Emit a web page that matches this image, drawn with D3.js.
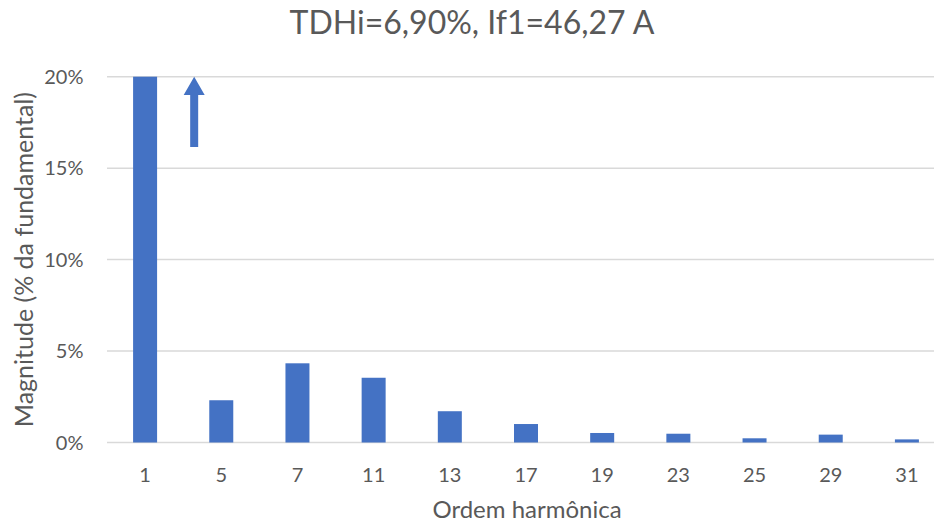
<!DOCTYPE html>
<html>
<head>
<meta charset="utf-8">
<script src="https://cdn.jsdelivr.net/npm/d3@7"></script>
<style>
  html, body { margin: 0; padding: 0; background: #fff; }
  svg { display: block; }
  text { font-family: Lato, "Open Sans", sans-serif; }
</style>
</head>
<body>
<svg id="chart" width="934" height="526"></svg>
<script>
// Harmonic spectrum of the current (magnitude as % of fundamental)
const harmonics = ["1", "5", "7", "11", "13", "17", "19", "23", "25", "29", "31"];
const magnitudes = [100, 2.31, 4.33, 3.54, 1.71, 1.01, 0.52, 0.48, 0.23, 0.43, 0.17];
const yTicks = [0, 5, 10, 15, 20];
const titleText = "TDHi=6,90%, If1=46,27 A";
const xTitle = "Ordem harmônica";
const yTitle = "Magnitude (% da fundamental)";

const svg = d3.select("#chart");
const margin = { left: 107, right: -11, top: 76.7, bottom: 83.5 };
const W = 934, H = 526;

const x = d3.scaleBand()
  .domain(harmonics)
  .range([margin.left, W - margin.right])
  .paddingInner(0.685)
  .paddingOuter(0.3425);

const y = d3.scaleLinear()
  .domain([0, 20])
  .range([H - margin.bottom, margin.top])
  .clamp(true);

// gridlines
svg.append("g")
  .selectAll("line")
  .data(yTicks)
  .join("line")
  .attr("x1", margin.left)
  .attr("x2", W - margin.right)
  .attr("y1", d => y(d))
  .attr("y2", d => y(d))
  .attr("stroke", "#d9d9d9")
  .attr("stroke-width", 1.5);

// bars (fundamental is clipped at the top of the axis)
svg.append("g")
  .selectAll("rect")
  .data(harmonics.map((h, i) => ({ h, v: magnitudes[i] })))
  .join("rect")
  .attr("x", d => x(d.h))
  .attr("width", x.bandwidth())
  .attr("y", d => y(d.v))
  .attr("height", d => y(0) - y(d.v))
  .attr("fill", "#4472c4");

// arrow showing the fundamental goes off scale
const ax = (x("1") + x.bandwidth() / 2 + x("5") + x.bandwidth() / 2) / 2 + 11;
const tipY = y(20.15), baseY = y(19.0), tailY = y(16.15);
svg.append("path")
  .attr("d", `M${ax - 4},${tailY} L${ax - 4},${baseY} L${ax - 10.5},${baseY} L${ax},${tipY} L${ax + 10.5},${baseY} L${ax + 4},${baseY} L${ax + 4},${tailY} Z`)
  .attr("fill", "#4472c4");

// y axis tick labels
svg.append("g")
  .selectAll("text")
  .data(yTicks)
  .join("text")
  .attr("x", 83.5)
  .attr("y", d => y(d))
  .attr("dy", "0.36em")
  .attr("text-anchor", "end")
  .attr("font-size", 20)
  .attr("fill", "#595959")
  .text(d => d + "%");

// x axis tick labels
svg.append("g")
  .selectAll("text")
  .data(harmonics)
  .join("text")
  .attr("x", d => x(d) + x.bandwidth() / 2)
  .attr("y", 482)
  .attr("text-anchor", "middle")
  .attr("font-size", 20)
  .attr("fill", "#595959")
  .text(d => d);

// titles
svg.append("text")
  .attr("x", 472)
  .attr("y", 34)
  .attr("text-anchor", "middle")
  .attr("font-size", 32)
  .attr("fill", "#595959")
  .text(titleText);

svg.append("text")
  .attr("x", 527)
  .attr("y", 518)
  .attr("text-anchor", "middle")
  .attr("font-size", 24)
  .attr("fill", "#595959")
  .text(xTitle);

svg.append("text")
  .attr("transform", `translate(33,${(y(0) + y(20)) / 2}) rotate(-90)`)
  .attr("text-anchor", "middle")
  .attr("font-size", 25)
  .attr("fill", "#595959")
  .text(yTitle);
</script>
</body>
</html>
